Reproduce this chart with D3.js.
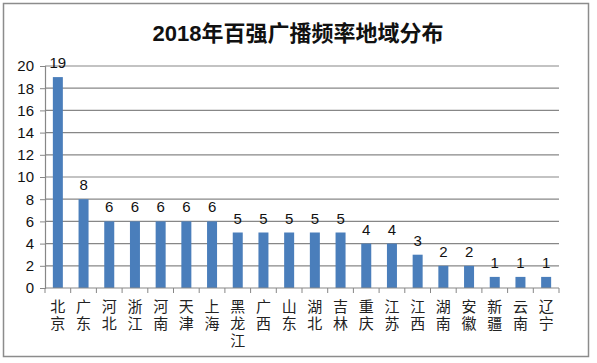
<!DOCTYPE html>
<html>
<head>
<meta charset="utf-8">
<script src="https://cdn.jsdelivr.net/npm/d3@7"></script>
<style>
  body { margin: 0; background: #fff; }
  svg text { font-family: "Liberation Sans", "Noto Sans CJK SC", sans-serif; }
</style>
</head>
<body>
<svg id="chart" width="597" height="363" viewBox="0 0 597 363"></svg>
<script>
const title = "2018年百强广播频率地域分布";
const regions = ["北京", "广东", "河北", "浙江", "河南", "天津", "上海", "黑龙江", "广西", "山东",
                 "湖北", "吉林", "重庆", "江苏", "江西", "湖南", "安徽", "新疆", "云南", "辽宁"];
const counts = [19, 8, 6, 6, 6, 6, 6, 5, 5, 5, 5, 5, 4, 4, 3, 2, 2, 1, 1, 1];
const yTicks = [0, 2, 4, 6, 8, 10, 12, 14, 16, 18, 20];

let svg = d3.select("#chart");
let margins = {top: 66, right: 38, bottom: 75, left: 45};
let totalWidth = 597, totalHeight = 363;
let innerWidth = totalWidth - margins.left - margins.right;
let innerHeight = totalHeight - margins.top - margins.bottom;

// outer frame
svg.append("rect")
    .attr("x", 3.5).attr("y", 3.5)
    .attr("width", 585).attr("height", 353)
    .attr("fill", "#fff")
    .attr("stroke", "#8c8c8c")
    .attr("stroke-width", 1.5);

svg.append("text")
    .attr("x", 298).attr("y", 41)
    .attr("text-anchor", "middle")
    .style("font-size", "22px")
    .style("font-weight", "bold")
    .attr("fill", "#111")
    .text(title);

let x = d3.scaleBand(regions, [0, innerWidth]).paddingInner(0.6).paddingOuter(0.3);
let y = d3.scaleLinear([0, 20], [innerHeight, 0]);

let chart = svg.append("g")
    .attr("transform", `translate(${margins.left},${margins.top})`);

// gridlines
chart.append("g")
    .selectAll("line")
    .data(yTicks.filter(d => d > 0))
    .join("line")
    .attr("x1", 0).attr("x2", innerWidth)
    .attr("y1", d => y(d)).attr("y2", d => y(d))
    .attr("stroke", "#878787")
    .attr("stroke-width", 1.2);

// y axis
let yAxis = chart.append("g")
    .call(d3.axisLeft(y).tickValues(yTicks).tickSize(5).tickPadding(6));
yAxis.select(".domain").attr("stroke", "#878787").attr("stroke-width", 1.2);
yAxis.selectAll(".tick line").attr("stroke", "#878787");
yAxis.selectAll("text").style("font-size", "15px").attr("fill", "#111");

// bars
chart.append("g")
    .selectAll("rect")
    .data(counts)
    .join("rect")
    .attr("x", (d, i) => x(regions[i]) + (x.bandwidth() - 10) / 2)
    .attr("width", 10)
    .attr("y", d => y(d))
    .attr("height", d => innerHeight - y(d))
    .attr("fill", "#4a7ebb");

// value labels
chart.append("g")
    .selectAll("text")
    .data(counts)
    .join("text")
    .attr("x", (d, i) => x(regions[i]) + x.bandwidth() / 2)
    .attr("y", d => y(d) - 9)
    .attr("text-anchor", "middle")
    .style("font-size", "15px")
    .attr("fill", "#111")
    .text(d => d);

// x axis with ticks between categories
let xAxisG = chart.append("g").attr("transform", `translate(0,${innerHeight})`);
xAxisG.append("line")
    .attr("x1", 0).attr("x2", innerWidth)
    .attr("stroke", "#878787").attr("stroke-width", 1.2);
let edges = d3.range(regions.length + 1).map(i => i * innerWidth / regions.length);
xAxisG.selectAll(".xt")
    .data(edges)
    .join("line")
    .attr("class", "xt")
    .attr("x1", d => d).attr("x2", d => d)
    .attr("y1", 0).attr("y2", 5)
    .attr("stroke", "#878787");

// vertical category labels (stacked characters)
xAxisG.selectAll(".cat")
    .data(regions)
    .join("text")
    .attr("class", "cat")
    .attr("x", d => x(d) + x.bandwidth() / 2)
    .attr("y", 11)
    .style("writing-mode", "vertical-rl")
    .style("text-orientation", "upright")
    .style("letter-spacing", "2px")
    .style("font-family", "'Noto Sans CJK SC', sans-serif")
    .style("font-size", "15px")
    .attr("fill", "#222")
    .text(d => d);
</script>
</body>
</html>
